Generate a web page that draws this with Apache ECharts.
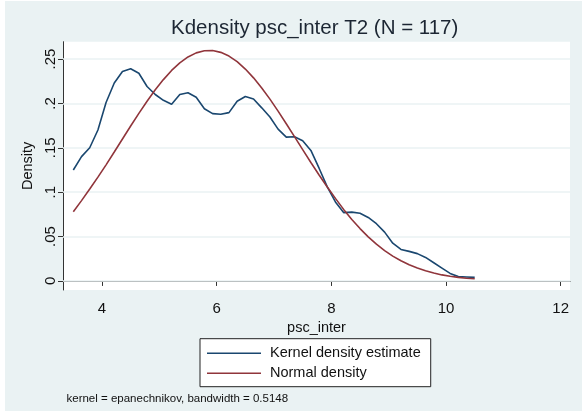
<!DOCTYPE html>
<html>
<head>
<meta charset="utf-8">
<script src="https://cdn.jsdelivr.net/npm/echarts@6/dist/echarts.min.js"></script>
<style>
  html, body { margin: 0; padding: 0; background: #fff; }
  #chart { position: absolute; left: 5px; top: 1px; width: 577px; height: 410px; }
</style>
</head>
<body>
<div id="chart"></div>
<script>
// evaluation points (psc_inter)
var xPoints = [3.5, 3.643, 3.786, 3.929, 4.071, 4.214, 4.357, 4.5, 4.643, 4.786,
  4.929, 5.071, 5.214, 5.357, 5.5, 5.643, 5.786, 5.929, 6.071, 6.214,
  6.357, 6.5, 6.643, 6.786, 6.929, 7.071, 7.214, 7.357, 7.5, 7.643,
  7.786, 7.929, 8.071, 8.214, 8.357, 8.5, 8.643, 8.786, 8.929, 9.071,
  9.214, 9.357, 9.5, 9.643, 9.786, 9.929, 10.071, 10.214, 10.357, 10.5];
// kernel density estimate
var kdeValues = [0.125, 0.140, 0.150, 0.170, 0.201, 0.223, 0.236, 0.239, 0.234, 0.219,
  0.210, 0.2035, 0.199, 0.210, 0.212, 0.207, 0.194, 0.1885, 0.1877, 0.1896,
  0.2024, 0.2077, 0.205, 0.195, 0.1847, 0.171, 0.162, 0.1625, 0.158, 0.147,
  0.127, 0.106, 0.089, 0.077, 0.0775, 0.0762, 0.0715, 0.0645, 0.055, 0.0425,
  0.0355, 0.0333, 0.0308, 0.0265, 0.0205, 0.0145, 0.0085, 0.005, 0.0045, 0.004];
// normal density
var normalValues = [0.078, 0.0905, 0.1035, 0.1169, 0.1308, 0.1452, 0.1599, 0.1745, 0.1888, 0.2025,
  0.2153, 0.2268, 0.2371, 0.2456, 0.2523, 0.2569, 0.2593, 0.2595, 0.2575, 0.2533,
  0.2470, 0.2387, 0.2288, 0.2174, 0.2048, 0.1913, 0.1771, 0.1625, 0.1479, 0.1334,
  0.1193, 0.1058, 0.0930, 0.0806, 0.0693, 0.0590, 0.0497, 0.0414, 0.0342, 0.0280,
  0.0227, 0.0182, 0.0145, 0.0114, 0.0089, 0.0068, 0.0052, 0.0040, 0.0031, 0.0024];
var xTicks = [4, 6, 8, 10, 12];
var yTicks = [0, 0.05, 0.1, 0.15, 0.2, 0.25];
var yTickLabels = ['0', '.05', '.1', '.15', '.2', '.25'];
var seriesNames = ['Kernel density estimate', 'Normal density'];

(function(){
    var myChart = echarts.init(document.getElementById('chart'));
    var font = 'Liberation Sans, Arial, sans-serif';
    function pairs(vals) {
        return xPoints.map(function(x, i) { return [x, vals[i]]; });
    }
    var option = {
        backgroundColor: '#eaf2f3',
        animation: false,
        color: ['#1a476f', '#90353b'],
        title: [{
            text: 'Kdensity psc_inter T2 (N = 117)',
            left: 166,
            top: 16.5,
            padding: 0,
            textStyle: { fontFamily: font, fontSize: 20.5, fontWeight: 'normal', color: '#1c2633' }
        }, {
            text: 'kernel = epanechnikov, bandwidth = 0.5148',
            left: 61.5,
            top: 392,
            padding: 0,
            textStyle: { fontFamily: font, fontSize: 11.5, fontWeight: 'normal', color: '#111' }
        }],
        grid: {
            left: 58,
            top: 40.7,
            right: 12,
            bottom: 121,
            show: true,
            backgroundColor: '#fff',
            borderWidth: 0
        },
        legend: {
            orient: 'vertical',
            left: 195,
            top: 337.7,
            padding: [7, 10, 6, 7],
            itemGap: 5,
            itemWidth: 54,
            itemHeight: 1.6,
            icon: 'rect',
            backgroundColor: '#fff',
            borderColor: '#222',
            borderWidth: 1,
            borderRadius: 0,
            data: seriesNames,
            textStyle: { fontFamily: font, fontSize: 14.5, color: '#111', padding: [0, 0, 0, 4] }
        },
        xAxis: {
            type: 'value',
            min: 3.32,
            max: 12.162,
            name: 'psc_inter',
            nameLocation: 'middle',
            nameGap: 22,
            nameTextStyle: { fontFamily: font, fontSize: 14.5, color: '#111' },
            axisLine: { show: true, lineStyle: { color: '#333', width: 1 } },
            axisTick: { show: true, length: 5, customValues: xTicks, lineStyle: { color: '#333' } },
            axisLabel: { customValues: xTicks, margin: 11, fontFamily: font, fontSize: 15, color: '#111' },
            splitLine: { show: false }
        },
        yAxis: {
            type: 'value',
            min: -0.0102,
            max: 0.2695,
            name: 'Density',
            nameLocation: 'middle',
            nameGap: 20,
            nameTextStyle: { fontFamily: font, fontSize: 14.5, color: '#111' },
            axisLine: { show: true, lineStyle: { color: '#333', width: 1 } },
            axisTick: { show: true, length: 5, customValues: yTicks, lineStyle: { color: '#333' } },
            axisLabel: {
                customValues: yTicks,
                rotate: 90,
                margin: 5,
                fontFamily: font,
                fontSize: 15,
                color: '#111',
                formatter: function(v) {
                    var i = yTicks.indexOf(Math.round(v * 100) / 100);
                    return i >= 0 ? yTickLabels[i] : '';
                }
            },
            splitLine: { show: false }
        },
        series: [{
            name: seriesNames[0],
            type: 'line',
            data: pairs(kdeValues),
            showSymbol: false,
            lineStyle: { width: 1.6 },
            z: 3,
            markLine: {
                silent: true,
                symbol: 'none',
                label: { show: false },
                lineStyle: { color: '#eaf2f3', width: 1.5, type: 'solid' },
                z: 1,
                data: yTicks.map(function(v) { return { yAxis: v }; })
            }
        }, {
            name: seriesNames[1],
            type: 'line',
            data: pairs(normalValues),
            showSymbol: false,
            lineStyle: { width: 1.6 },
            z: 3
        }]
    };
    myChart.setOption(option);
    window.addEventListener('resize', function() {
        myChart.resize();
    });
})();
</script>
</body>
</html>
